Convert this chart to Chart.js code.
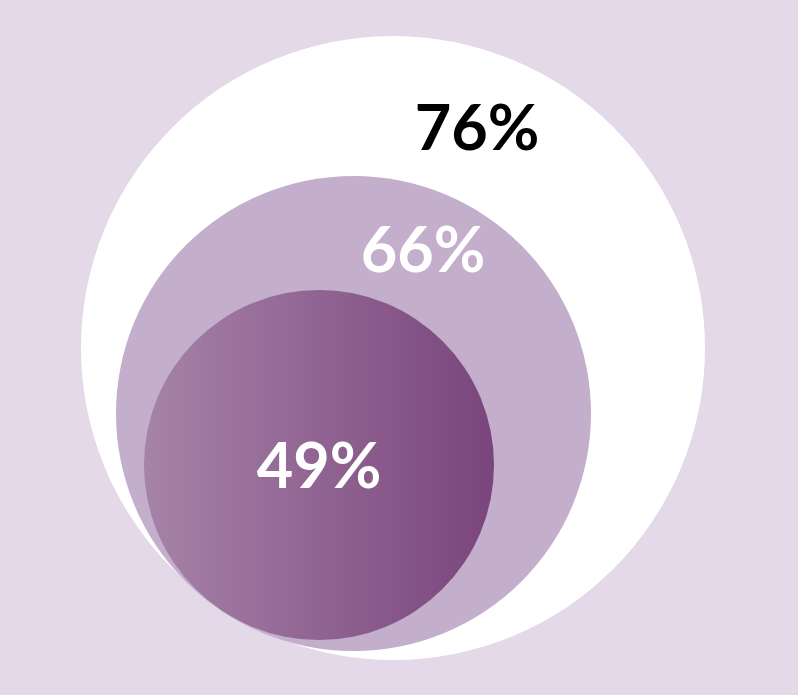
<!DOCTYPE html>
<html>
<head>
<meta charset="utf-8">
<script src="https://cdn.jsdelivr.net/npm/chart.js@4"></script>
<style>
  html, body { margin: 0; padding: 0; background: #e4d9e8; }
  canvas { display: block; }
</style>
</head>
<body>
<canvas id="circles" width="798" height="695"></canvas>
<script>
// values and circle geometry (chart units, x 0-798, y 0-695 top-down)
const labels = ["76%", "66%", "49%"];
const values = [76, 66, 49];
const centerX = [393, 353.5, 319];
const centerY = [348, 413.5, 465];
const radius = [312, 237.5, 175];

// where each label sits (chart units)
const labelX = [477, 423, 319];
const labelY = [130, 252, 468];
const labelColors = ["#000000", "#ffffff", "#ffffff"];

// radius in chart units -> pixels, through the x scale
function pxRadius(chart, r) {
  const s = chart.scales.x;
  if (!s) return 0;
  const d = Math.abs(s.getPixelForValue(r) - s.getPixelForValue(0));
  return isFinite(d) ? d : 0;
}

function buildPoints(chart) {
  return values.map((v, i) => ({
    x: centerX[i],
    y: centerY[i],
    r: chart ? pxRadius(chart, radius[i]) : 0,
    v: v
  }));
}

const labelPlugin = {
  id: "circleLabels",
  afterDatasetsDraw(chart) {
    const ctx = chart.ctx;
    const xs = chart.scales.x, ys = chart.scales.y;
    ctx.save();
    ctx.font = "700 63px Lato";
    ctx.textAlign = "center";
    ctx.textBaseline = "middle";
    labels.forEach((t, i) => {
      ctx.fillStyle = labelColors[i];
      ctx.fillText(t, xs.getPixelForValue(labelX[i]), ys.getPixelForValue(labelY[i]));
    });
    ctx.restore();
  }
};

const chart = new Chart(document.getElementById("circles"), {
  type: "bubble",
  data: {
    labels: labels,
    datasets: [{
      data: buildPoints(null),
      hoverRadius: 0,
      borderWidth: 0,
      clip: false,
      backgroundColor: c => {
        if (c.dataIndex === 0) return "#ffffff";
        if (c.dataIndex === 1) return "#c3aecb";
        const xs = c.chart.scales.x;
        if (!xs) return "#8f5f90";
        const x0 = xs.getPixelForValue(centerX[2] - radius[2]);
        const x1 = xs.getPixelForValue(centerX[2] + radius[2]);
        if (!isFinite(x0) || !isFinite(x1)) return "#8f5f90";
        const g = c.chart.ctx.createLinearGradient(x0, 0, x1, 0);
        g.addColorStop(0, "#a683a8");
        g.addColorStop(1, "#7a457c");
        return g;
      }
    }]
  },
  options: {
    responsive: false,
    animation: false,
    events: [],
    layout: { padding: 0, autoPadding: false },
    plugins: { legend: { display: false }, tooltip: { enabled: false } },
    scales: {
      x: { type: "linear", min: 0, max: 798, display: false },
      y: { type: "linear", min: 0, max: 695, reverse: true, display: false }
    }
  },
  plugins: [labelPlugin]
});

// scales are laid out now, so the radii can be converted and applied
chart.data.datasets[0].data = buildPoints(chart);
chart.update("none");
</script>
</body>
</html>
